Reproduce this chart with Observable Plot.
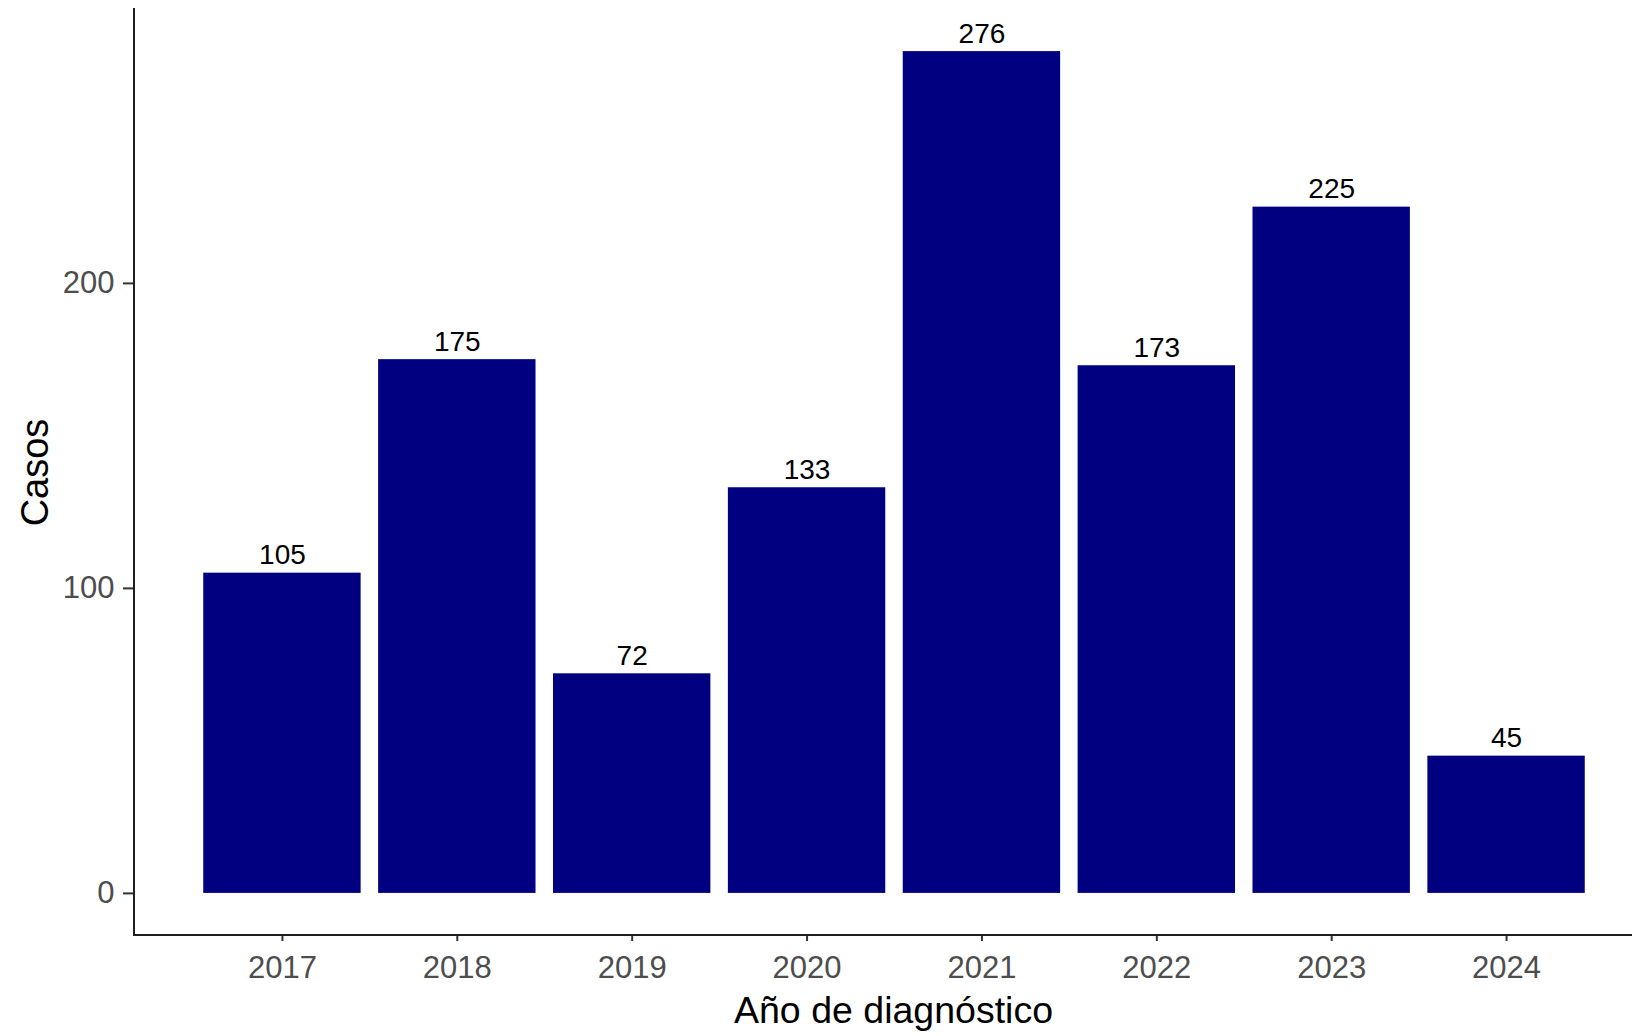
<!DOCTYPE html>
<html>
<head>
<meta charset="utf-8">
<script src="https://cdn.jsdelivr.net/npm/d3@7"></script>
<script src="https://cdn.jsdelivr.net/npm/@observablehq/plot@0.6"></script>
<style>
  html, body { margin: 0; padding: 0; background: white; overflow: hidden; }
  #chart svg { display: block; }
</style>
</head>
<body>
<div id="chart"></div>
<script>
// Data
const years = ["2017", "2018", "2019", "2020", "2021", "2022", "2023", "2024"];
const casos = [105, 175, 72, 133, 276, 173, 225, 45];
const yTicks = [0, 100, 200];
const xTitle = "Año de diagnóstico";
const yTitle = "Casos";

const data = years.map((y, i) => ({year: y, casos: casos[i]}));
const maxVal = d3.max(casos);
const pad = maxVal * 0.05;

const font = "'Liberation Sans', Arial, sans-serif";

const axisLines = (index, scales, values, dims) => {
  const g = d3.create("svg:g").attr("stroke", "#1f1f1f").attr("stroke-width", 2).attr("stroke-linecap", "square");
  const left = dims.marginLeft, right = dims.width - dims.marginRight;
  const top = dims.marginTop, bottom = dims.height - dims.marginBottom;
  g.append("line").attr("x1", left).attr("x2", left).attr("y1", top).attr("y2", bottom);
  g.append("line").attr("x1", left).attr("x2", right + 30).attr("y1", bottom).attr("y2", bottom);
  return g.node();
};

const chart = Plot.plot({
  width: 1632,
  height: 1036,
  marginLeft: 134,
  marginRight: 0,
  marginTop: 9,
  marginBottom: 101,
  style: {fontFamily: font, background: "white"},
  x: {type: "band", domain: years, range: [194.5, 1593.5], paddingInner: 0.1, paddingOuter: 0.05, align: 0.5, round: false},
  y: {domain: [-pad, maxVal + pad]},
  marks: [
    Plot.barY(data, {x: "year", y: "casos", fill: "#000080"}),
    Plot.text(data, {x: "year", y: "casos", text: d => String(d.casos), lineAnchor: "bottom", dy: -9, fontSize: 28, fill: "#000"}),
    Plot.axisY({ticks: yTicks, tickSize: 11, tickPadding: 9, fontSize: 31, fill: "#4d4d4d", stroke: "#333", strokeWidth: 2, label: null}),
    Plot.axisX({tickSize: 6, tickPadding: 14, fontSize: 31, fill: "#4d4d4d", stroke: "#333", strokeWidth: 2, label: null}),
    axisLines,
    Plot.text([yTitle], {frameAnchor: "left", rotate: -90, dx: -99, fontSize: 38, fill: "#000", textAnchor: "middle", lineAnchor: "middle"}),
    Plot.text([xTitle], {frameAnchor: "bottom", dx: 10, dy: 75, fontSize: 37.5, fill: "#000", textAnchor: "middle", lineAnchor: "middle"})
  ]
});
document.getElementById("chart").appendChild(chart);
</script>
</body>
</html>
